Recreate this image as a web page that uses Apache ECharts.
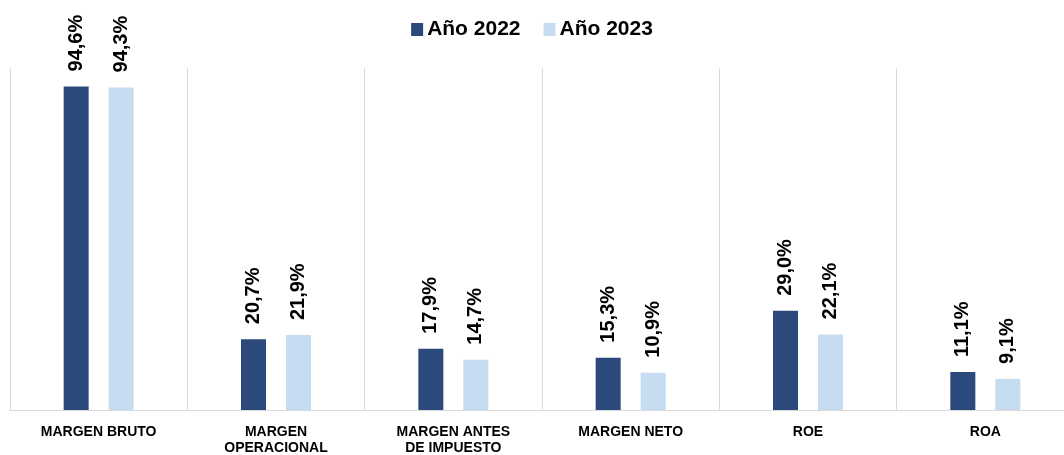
<!DOCTYPE html>
<html>
<head>
<meta charset="utf-8">
<script src="https://cdn.jsdelivr.net/npm/echarts@6/dist/echarts.min.js"></script>
<style>
  html, body { margin: 0; padding: 0; background: #fff; }
  #chart { width: 1064px; height: 455px; }
</style>
</head>
<body>
<div id="chart"></div>
<script>
// categorias y valores (%)
var categorias = ['MARGEN BRUTO', 'MARGEN\nOPERACIONAL', 'MARGEN ANTES\nDE IMPUESTO', 'MARGEN NETO', 'ROE', 'ROA'];
var anio2022 = [94.6, 20.7, 17.9, 15.3, 29.0, 11.1];
var anio2023 = [94.3, 21.9, 14.7, 10.9, 22.1, 9.1];

function etiqueta(p) {
    return p.value.toFixed(1).replace('.', ',') + '%';
}

var labelStyle = {
    show: true,
    position: 'top',
    rotate: 90,
    align: 'left',
    verticalAlign: 'middle',
    distance: 15,
    color: '#000',
    fontFamily: 'Liberation Sans, Arial, sans-serif',
    fontWeight: 'bold',
    fontSize: 20,
    formatter: etiqueta
};

var option = {
    animation: false,
    legend: {
        top: 14,
        left: 'center',
        icon: 'rect',
        itemWidth: 12,
        itemHeight: 13,
        itemGap: 23,
        textStyle: {
            color: '#000',
            fontFamily: 'Liberation Sans, Arial, sans-serif',
            fontWeight: 'bold',
            fontSize: 21,
            padding: [0, 0, 0, -1]
        },
        data: ['Año 2022', 'Año 2023']
    },
    grid: {
        left: 10,
        top: 68,
        width: 1064,
        height: 342,
        outerBoundsMode: 'none',
        containLabel: false
    },
    xAxis: {
        type: 'category',
        data: categorias,
        axisLine: { show: true, lineStyle: { color: '#d9d9d9', width: 1 } },
        axisTick: { show: false },
        splitLine: { show: true, lineStyle: { color: '#d9d9d9', width: 1 } },
        axisLabel: {
            color: '#000',
            fontFamily: 'Liberation Sans, Arial, sans-serif',
            fontWeight: 'bold',
            fontSize: 14,
            lineHeight: 16,
            margin: 14,
            interval: 0
        }
    },
    yAxis: {
        type: 'value',
        min: 0,
        max: 100,
        show: false,
        splitLine: { show: false }
    },
    series: [
        {
            name: 'Año 2022',
            type: 'bar',
            barWidth: 25,
            barGap: '80%',
            itemStyle: { color: '#2b4a7b' },
            label: labelStyle,
            data: anio2022
        },
        {
            name: 'Año 2023',
            type: 'bar',
            barWidth: 25,
            itemStyle: { color: '#c6dcf0' },
            label: labelStyle,
            data: anio2023
        }
    ]
};

var chart = echarts.init(document.getElementById('chart'));
chart.setOption(option);
</script>
</body>
</html>
